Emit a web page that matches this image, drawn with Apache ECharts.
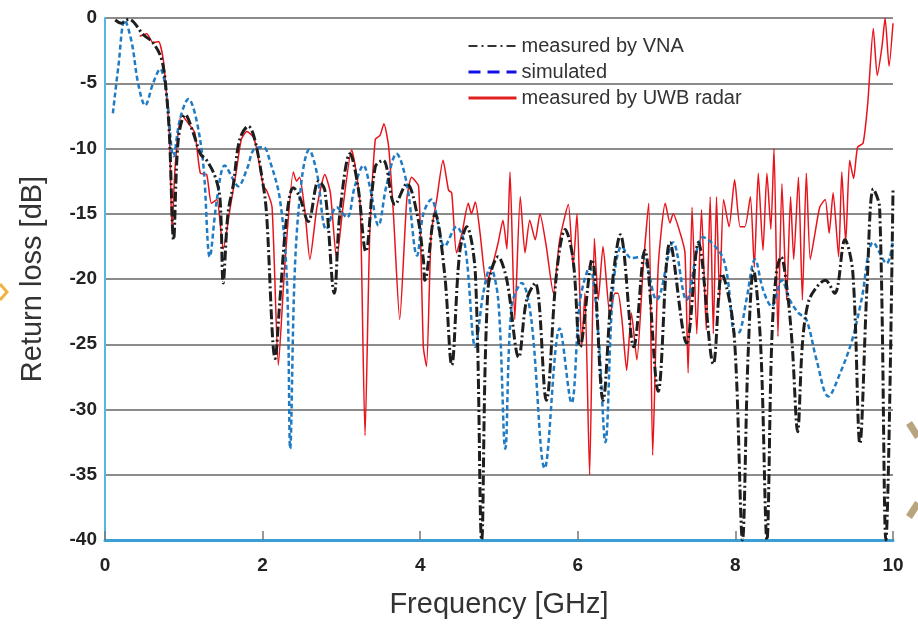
<!DOCTYPE html>
<html>
<head>
<meta charset="utf-8">
<title>Return loss</title>
<script src="https://cdn.jsdelivr.net/npm/echarts@6/dist/echarts.min.js"></script>
<style>
  html, body { margin: 0; padding: 0; background: #fff; }
  #container { width: 918px; height: 627px; }
</style>
</head>
<body>
<div id="container"></div>
<script>
// 频率 (GHz) / 回波损耗 (dB)
var vnaFreq = [0.13,0.21,0.30,0.49,0.61,0.72,0.78,0.82,0.87,0.93,1.02,1.12,1.21,1.29,1.40,1.46,1.50,1.56,1.63,1.71,1.82,1.90,2.01,
    2.05,2.16,2.22,2.31,2.39,2.47,2.58,2.71,2.79,2.91,2.98,3.11,3.21,3.31,3.43,3.53,3.68,3.83,3.96,4.04,
    4.06,4.19,4.31,4.40,4.50,4.59,4.70,4.78,4.86,4.99,5.10,5.25,5.35,5.46,5.60,5.73,5.84,5.94,6.03,
    6.18,6.32,6.43,6.54,6.71,6.85,7.02,7.17,7.38,7.53,7.72,7.83,7.95,8.01,8.09,8.16,8.23,8.32,8.40,8.46,8.52,8.58,
    8.65,8.72,8.79,8.85,8.92,9.01,9.14,9.26,9.39,9.49,9.58,9.67,9.75,9.83,9.91,10.0];
var vnaLoss = [-0.15,-0.4,-0.1,-1.3,-1.9,-3.2,-5.8,-9.3,-17.0,-9.3,-7.4,-8.8,-10.4,-10.9,-12.2,-13.9,-20.3,-15.0,-12.7,-9.3,-8.3,-9.3,-12.9,
    -15.0,-26.1,-21.6,-15.0,-13.0,-13.7,-15.6,-12.5,-13.2,-21.1,-15.0,-10.4,-12.9,-17.9,-11.4,-10.9,-14.3,-12.7,-15.0,-18.5,
    -20.1,-15.0,-19.6,-26.6,-18.0,-16.0,-19.6,-40,-20.8,-18.3,-20.1,-26.0,-21.6,-20.3,-29.3,-19.6,-16.2,-18.5,-25.2,
    -18.5,-29.3,-20.8,-16.6,-25.2,-17.8,-28.6,-17.2,-24.9,-17.2,-26.5,-19.6,-22.5,-27.0,-40,-26.0,-19.3,-25.0,-40,-25.0,-19.5,-18.3,
    -20.5,-25.0,-31.7,-25.0,-21.9,-20.8,-20.1,-21.1,-17.0,-19.5,-32.6,-20.6,-13.1,-14.5,-40,-13.2];

var simFreq = [0.10,0.17,0.25,0.34,0.42,0.51,0.61,0.70,0.78,0.87,0.95,1.06,1.16,1.25,1.33,1.42,1.52,1.63,1.69,1.80,1.90,2.01,
    2.09,2.22,2.31,2.35,2.41,2.50,2.59,2.69,2.81,2.94,3.07,3.17,3.28,3.36,3.47,3.57,3.70,3.83,3.96,4.04,
    4.14,4.31,4.46,4.57,4.70,4.80,4.89,4.99,5.08,5.16,5.29,5.41,5.58,5.77,5.92,6.03,
    6.15,6.26,6.35,6.45,6.56,6.68,6.81,7.00,7.21,7.38,7.59,7.85,8.00,8.06,
    8.14,8.25,8.35,8.46,8.59,8.69,8.80,8.90,9.03,9.18,9.33,9.48,9.60,9.75,9.92,10.0];
var simLoss = [-7.3,-3.7,-0.15,-1.9,-5.0,-6.7,-5.0,-3.9,-5.8,-10.6,-7.8,-6.2,-7.8,-11.4,-18.3,-13.9,-11.3,-12.4,-12.9,-11.6,-10.0,-9.9,
    -10.9,-13.9,-20.3,-33.0,-19.1,-12.2,-10.1,-11.9,-16.2,-14.5,-15.3,-12.9,-11.3,-12.9,-15.9,-12.9,-10.4,-12.7,-18.2,-15.0,
    -13.9,-17.5,-16.0,-17.5,-25.2,-21.1,-19.1,-21.6,-33.0,-22.1,-20.3,-23.1,-34.5,-23.8,-29.5,-21.6,
    -19.1,-24.2,-32.5,-20.6,-17.5,-18.4,-18.3,-21.6,-17.2,-21.6,-16.8,-18.5,-24.2,-24.0,
    -21.6,-18.5,-20.8,-22.1,-20.1,-21.6,-22.6,-23.1,-26.2,-29.0,-27.2,-24.7,-21.6,-17.2,-18.8,-17.0];

var uwbFreq = [0.44,0.53,0.61,0.68,0.74,0.78,0.82,0.85,0.89,0.97,1.06,1.14,1.21,1.29,1.35,1.42,1.50,1.59,1.67,1.73,1.80,1.88,1.92,2.01,
    2.05,2.12,2.20,2.28,2.39,2.43,2.47,2.54,2.60,2.69,2.79,2.86,2.94,3.02,3.13,3.19,3.24,3.30,3.36,3.43,3.49,3.54,3.60,3.66,3.74,3.83,3.89,3.98,
    4.04,4.08,4.14,4.21,4.29,4.36,4.40,4.46,4.53,4.61,4.65,4.70,4.76,4.84,4.91,4.99,5.05,5.10,5.14,5.20,5.27,5.33,5.39,5.46,5.52,5.60,5.69,5.77,5.88,5.94,5.99,6.05,
    6.09,6.15,6.21,6.26,6.32,6.41,6.47,6.51,6.56,6.62,6.68,6.75,6.83,6.90,6.95,7.02,7.11,7.17,7.21,7.30,7.36,7.40,7.45,7.51,7.57,7.63,7.68,7.72,7.76,7.80,7.85,7.92,7.99,8.06,
    8.12,8.19,8.24,8.29,8.35,8.40,8.45,8.49,8.54,8.59,8.65,8.70,8.74,8.80,8.85,8.90,8.95,9.01,9.07,9.14,9.19,9.24,9.31,9.35,9.40,9.45,9.50,9.55,9.62,9.68,9.75,9.80,9.86,9.90,9.95,10.0];
var uwbLoss = [-1.4,-1.2,-1.9,-1.8,-3.2,-5.8,-9.3,-16.2,-11.4,-7.4,-8.1,-8.8,-11.9,-12.0,-14.2,-13.9,-17.7,-14.5,-11.6,-9.3,-8.7,-9.1,-9.9,-12.9,
    -13.2,-14.5,-26.6,-19.1,-11.8,-12.5,-12.2,-15.0,-18.5,-14.5,-12.0,-13.4,-18.5,-14.5,-10.1,-11.9,-14.5,-32.0,-16.5,-9.3,-9.0,-8.1,-9.9,-15.0,-23.1,-13.9,-12.2,-12.9,
    -25.2,-26.7,-16.5,-13.9,-10.9,-13.2,-13.4,-18.0,-16.5,-14.2,-15.0,-14.1,-16.5,-20.3,-19.1,-17.2,-15.5,-17.7,-11.8,-23.1,-13.7,-18.0,-15.5,-17.0,-15.0,-17.5,-21.1,-17.0,-14.3,-19.1,-15.0,-25.2,
    -21.1,-35.0,-16.9,-21.6,-17.5,-22.9,-21.1,-21.1,-23.1,-27.0,-22.6,-26.2,-19.1,-14.2,-33.5,-19.1,-14.2,-15.7,-15.0,-16.5,-18.0,-27.2,-14.5,-24.2,-14.7,-23.9,-13.7,-24.2,-13.7,-21.6,-13.9,-16.0,-12.4,-16.0,
    -16.0,-13.7,-19.1,-11.9,-17.8,-11.9,-16.2,-10.0,-24.4,-12.7,-21.6,-13.7,-18.5,-12.2,-21.6,-11.9,-18.5,-16.5,-14.5,-13.9,-16.5,-13.4,-18.3,-11.8,-17.2,-10.9,-12.3,-9.9,-9.6,-6.5,-0.8,-4.4,-2.2,0,-3.7,-0.4];

var seriesNames = ['measured by VNA', 'simulated', 'measured by UWB radar'];

function pairs(xs, ys) {
    var out = [];
    for (var i = 0; i < xs.length; i++) {
        out.push([xs[i], ys[i]]);
    }
    return out;
}

var dom = document.getElementById("container");
var myChart = echarts.init(dom);
var font = 'Liberation Sans, Arial, sans-serif';
var hideSymbol = {opacity: 0};

var option = {
    backgroundColor: '#ffffff',
    animation: false,
    grid: {
        left: 105,
        right: 25,
        top: 18,
        bottom: 87
    },
    // 背景上的装饰
    graphic: [
        {
            type: 'polyline',
            shape: {points: [[909, 423], [918, 437]]},
            style: {stroke: '#b8a47e', lineWidth: 7, lineCap: 'butt'}
        },
        {
            type: 'polyline',
            shape: {points: [[909, 517], [918, 503]]},
            style: {stroke: '#b8a47e', lineWidth: 7, lineCap: 'butt'}
        },
        {
            type: 'polyline',
            shape: {points: [[0, 284], [7, 292], [0, 300]]},
            style: {stroke: '#f2b040', lineWidth: 3, fill: null}
        }
    ],
    legend: {
        orient: 'vertical',
        left: 462,
        top: 31,
        itemWidth: 48,
        itemHeight: 14,
        itemGap: 6,
        textStyle: {
            fontFamily: font,
            fontSize: 20,
            color: '#333'
        },
        data: [
            {name: seriesNames[0], itemStyle: hideSymbol, lineStyle: {color: '#333', type: [9, 4, 2, 4], width: 2}},
            {name: seriesNames[1], itemStyle: hideSymbol, lineStyle: {color: '#1010e8', type: [12, 7], width: 3}},
            {name: seriesNames[2], itemStyle: hideSymbol, lineStyle: {color: '#e02020', type: 'solid', width: 3}}
        ]
    },
    xAxis: {
        type: 'value',
        min: 0,
        max: 10,
        interval: 2,
        name: 'Frequency [GHz]',
        nameLocation: 'middle',
        nameGap: 50,
        nameTextStyle: {
            fontFamily: font,
            fontSize: 29,
            color: '#333'
        },
        axisLine: {
            onZero: false,
            lineStyle: {color: '#3a9fd4', width: 3}
        },
        axisTick: {
            inside: true,
            length: 9,
            lineStyle: {color: '#777', width: 1.5}
        },
        axisLabel: {
            margin: 16,
            fontFamily: font,
            fontSize: 19,
            fontWeight: 'bold',
            color: '#222'
        },
        splitLine: {
            show: false
        }
    },
    yAxis: {
        type: 'value',
        min: -40,
        max: 0,
        interval: 5,
        name: 'Return loss [dB]',
        nameLocation: 'middle',
        nameGap: 58,
        nameTextStyle: {
            fontFamily: font,
            fontSize: 29,
            color: '#333'
        },
        axisLine: {
            show: true,
            onZero: false,
            lineStyle: {color: '#55b8e4', width: 2}
        },
        axisTick: {
            show: false
        },
        axisLabel: {
            margin: 8,
            fontFamily: font,
            fontSize: 19,
            fontWeight: 'bold',
            color: '#222'
        },
        splitLine: {
            show: true,
            lineStyle: {color: '#8c8c8c', width: 2}
        }
    },
    series: [
        {
            name: seriesNames[0],
            type: 'line',
            symbol: 'none',
            smooth: 0.35,
            z: 3,
            lineStyle: {color: '#1e1e1e', width: 3, type: [10, 3, 2, 3]},
            itemStyle: {color: '#1e1e1e'},
            data: pairs(vnaFreq, vnaLoss)
        },
        {
            name: seriesNames[1],
            type: 'line',
            symbol: 'none',
            smooth: 0.35,
            z: 2,
            lineStyle: {color: '#1f7cc4', width: 2.5, type: [5, 3]},
            itemStyle: {color: '#1f7cc4'},
            data: pairs(simFreq, simLoss)
        },
        {
            name: seriesNames[2],
            type: 'line',
            symbol: 'none',
            smooth: 0.2,
            z: 1,
            lineStyle: {color: '#e8141c', width: 1.5},
            itemStyle: {color: '#e8141c'},
            data: pairs(uwbFreq, uwbLoss)
        }
    ]
};

if (option && typeof option === "object") {
    myChart.setOption(option, true);
}
</script>
</body>
</html>
